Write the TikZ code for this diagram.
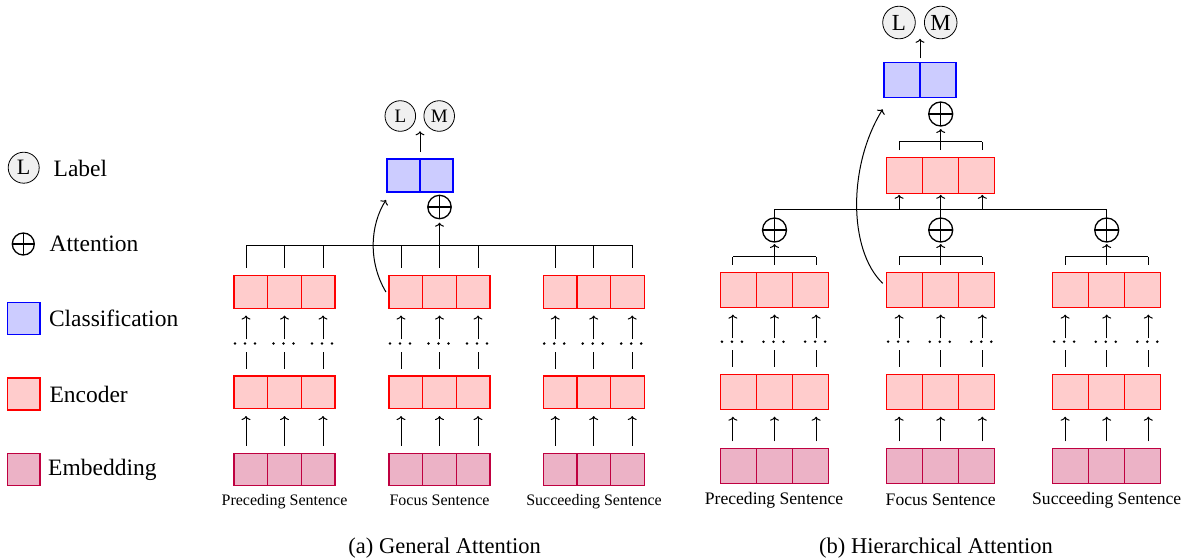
\documentclass[tikz,border=0pt]{standalone}
\usepackage{fontspec}
\IfFontExistsTF{LiberationSerif-Regular.ttf}{\setmainfont{LiberationSerif-Regular.ttf}}{\setmainfont{Liberation Serif}}
\usetikzlibrary{calc,arrows.meta}
\newcommand\mkrow[6]{% #1 prefix, #2 style, #3 cx, #4 cy, #5 w, #6 h
  \foreach \i in {1,2,3} {\node[#2, minimum width=#5pt, minimum height=#6pt] (#1\i) at ({#3+(\i-2)*#5}, #4) {};}}
\newcommand\mkcols[4]{% #1 prefix, #2 cx, #3 dx, #4 y
  \coordinate (#11) at ({#2-#3}, #4);
  \coordinate (#12) at (#2, #4);
  \coordinate (#13) at ({#2+#3}, #4);}
\newcommand\colstack[4]{% #1 column, #2 emb node, #3 mid node, #4 top node
  \draw[arr] ($(#1 |- #2.north)+(0,-7.5)$) -- ($(#1 |- #3.south)+(0,7.5)$);
  \draw[ln] ($(#1 |- #3.north)+(0,-7.5)$) -- ++(0,-17);
  \foreach \dd in {-11,-1,9} {\fill ($(#1 |- #3.north)+(\dd,-32.5)$) circle[radius=1.4pt];}
  \draw[arr] ($(#1 |- #4.south)+(0,31)$) -- ($(#1 |- #4.south)+(0,7.3)$);}
\tikzset{
  cellbox/.style={rectangle, draw, line width=1.3pt, inner sep=0pt, outer sep=0pt},
  enc/.style={cellbox, draw=red, fill=red!20},
  emb/.style={cellbox, draw=purple, fill=purple!30},
  cls/.style={cellbox, draw=blue, fill=blue!20},
  lm/.style={circle, draw, line width=0.8pt, fill=black!6, inner sep=0pt, outer sep=0pt},
  att/.style={circle, draw, line width=1.3pt, inner sep=0pt, outer sep=0pt,
    path picture={\draw[line width=1.3pt] (path picture bounding box.north) -- (path picture bounding box.south)
      (path picture bounding box.west) -- (path picture bounding box.east);}},
  ln/.style={line width=1pt},
  arr/.style={ln, -{To[length=4pt,width=9pt]}},
  legtext/.style={anchor=base west, inner sep=0pt, font=\fontsize{23.5}{26}\selectfont},
  senta/.style={anchor=base, inner sep=0pt, font=\fontsize{16}{18}\selectfont},
  sentb/.style={anchor=base, inner sep=0pt, font=\fontsize{17.6}{20}\selectfont},
  captext/.style={anchor=base, inner sep=0pt, font=\fontsize{22.5}{26}\selectfont}
}
\begin{document}
\begin{tikzpicture}[x=1pt,y=-1pt]
\useasboundingbox (0,0) rectangle (1188,558);

% ---------------- legend ----------------
\node[lm, minimum size=31pt, font=\fontsize{22}{24}\selectfont] (lgL) at (23.7,167.7) {L};
\node[legtext] (lgLt) at (53.5,176) {Label};
\node[att, minimum size=22pt] (lgA) at (23.3,244) {};
\node[legtext] (lgAt) at (49.5,251) {Attention};
\node[cls, minimum width=32.7pt, minimum height=32pt] (lgC) at (23.7,318.3) {};
\node[legtext] (lgCt) at (48.8,326.7) {Classification};
\node[enc, minimum width=32.7pt, minimum height=32pt] (lgE) at (23.7,393.9) {};
\node[legtext] (lgEt) at (49.3,402.3) {Encoder};
\node[emb, minimum width=32.7pt, minimum height=32pt] (lgB) at (23.7,469.5) {};
\node[legtext] (lgBt) at (48,475.5) {Embedding};

% ---------------- panel (a) ----------------
\foreach \g/\cx in {P/284.5, F/439.5, S/593.7} {
  \mkrow{a\g t}{enc}{\cx}{292}{33.7}{32.5}
  \mkrow{a\g m}{enc}{\cx}{392.3}{33.7}{32.5}
  \mkrow{a\g e}{emb}{\cx}{469.5}{33.7}{32.5}
  \mkcols{a\g c}{\cx}{38.5}{245}
}
\foreach \g in {P,F,S} {
  \foreach \i in {1,2,3} {
    \colstack{a\g c\i}{a\g e\i}{a\g m\i}{a\g t\i}
    \draw[ln] ($(a\g c\i |- a\g t\i.north)+(0,-8)$) -- (a\g c\i);
  }
}
\draw[ln] (aPc1) -- (aSc3);
\node[att, minimum size=23.4pt] (aAtt) at (439.5,207) {};
\draw[arr] (aFc2) -- ($(aAtt.south)+(0,4)$);
\node[cls, minimum width=33pt, minimum height=33pt] (aC1) at (403.5,175.5) {};
\node[cls, minimum width=33pt, minimum height=33pt] (aC2) at (436.5,175.5) {};
\node[lm, minimum size=30.6pt, font=\fontsize{19}{21}\selectfont] (aL) at (400.3,116) {L};
\node[lm, minimum size=30.6pt, font=\fontsize{19}{21}\selectfont] (aM) at (439.2,116) {M};
\draw[arr] ($(aC1.north east)+(0,-7)$) -- (aC1.north east |- aL.south);
\draw[arr] ($(aFt1.west)+(-3,0)$) .. controls (368,262) and (370,225) .. ($(aC1.south west)+(-1,8)$);
\node[senta] (aPs) at (284.5,505) {Preceding Sentence};
\node[senta] (aFs) at (439.5,505) {Focus Sentence};
\node[senta] (aSs) at (594,505) {Succeeding Sentence};
\node[captext] (capA) at (444.7,553.3) {(a) General Attention};

% ---------------- panel (b) ----------------
\foreach \g/\cx in {P/774.5, F/940.7, S/1106.7} {
  \mkrow{b\g t}{enc}{\cx}{289.8}{36}{35}
  \mkrow{b\g m}{enc}{\cx}{391.7}{36}{35}
  \mkrow{b\g e}{emb}{\cx}{466.3}{36}{35}
  \mkcols{b\g c}{\cx}{41.6}{256.7}
  \node[att, minimum size=24pt] (b\g Att) at (\cx,230) {};
}
\foreach \g in {P,F,S} {
  \foreach \i in {1,2,3} {
    \colstack{b\g c\i}{b\g e\i}{b\g m\i}{b\g t\i}
    \draw[ln] ($(b\g c\i |- b\g t\i.north)+(0,-7.5)$) -- (b\g c\i);
  }
  \draw[ln] (b\g c1) -- (b\g c3);
  \draw[arr] (b\g c2) -- ($(b\g Att.south)+(0,2)$);
}
\draw[ln] (bPAtt.north) -- ++(0,-9) coordinate (bBarL) -- (bBarL -| bSAtt.north) -- (bSAtt.north);
\draw[ln] (bFAtt.north) -- (bFAtt.north |- bBarL);
\mkrow{bU}{enc}{940.7}{175.5}{36}{35.6}
\foreach \i in {1,2,3} {
  \draw[arr] (bFc\i |- bBarL) -- ($(bFc\i |- bU\i.south)+(0,1.5)$);
}
\mkcols{bUc}{940.7}{41.6}{141.7}
\node[att, minimum size=24pt] (bTAtt) at (940.7,114) {};
\foreach \i in {1,2,3} {
  \draw[ln] ($(bUc\i |- bU\i.north)+(0,-7.7)$) -- (bUc\i);
}
\draw[ln] (bUc1) -- (bUc3);
\draw[arr] (bUc2) -- ($(bTAtt.south)+(0,3)$);
\node[cls, minimum width=36pt, minimum height=35pt] (bC1) at (902,79.8) {};
\node[cls, minimum width=36pt, minimum height=35pt] (bC2) at (938,79.8) {};
\node[lm, minimum size=32.6pt, font=\fontsize{23}{25}\selectfont] (bL) at (899,22.5) {L};
\node[lm, minimum size=32.6pt, font=\fontsize{23}{25}\selectfont] (bM) at (940.7,22.5) {M};
\draw[arr] ($(bC1.north east)+(0,-4)$) -- (bC1.north east |- bL.south);
\draw[arr] ($(bFt1.west)+(-4,-6.5)$) .. controls (848,250) and (848,165) .. ($(bC1.south west)+(-1.3,12)$);
\node[sentb] (bPs) at (774,504) {Preceding Sentence};
\node[sentb] (bFs) at (940.7,505.5) {Focus Sentence};
\node[sentb] (bSs) at (1106.7,504) {Succeeding Sentence};
\node[captext] (capB) at (936,553.3) {(b) Hierarchical Attention};
\end{tikzpicture}
\end{document}
